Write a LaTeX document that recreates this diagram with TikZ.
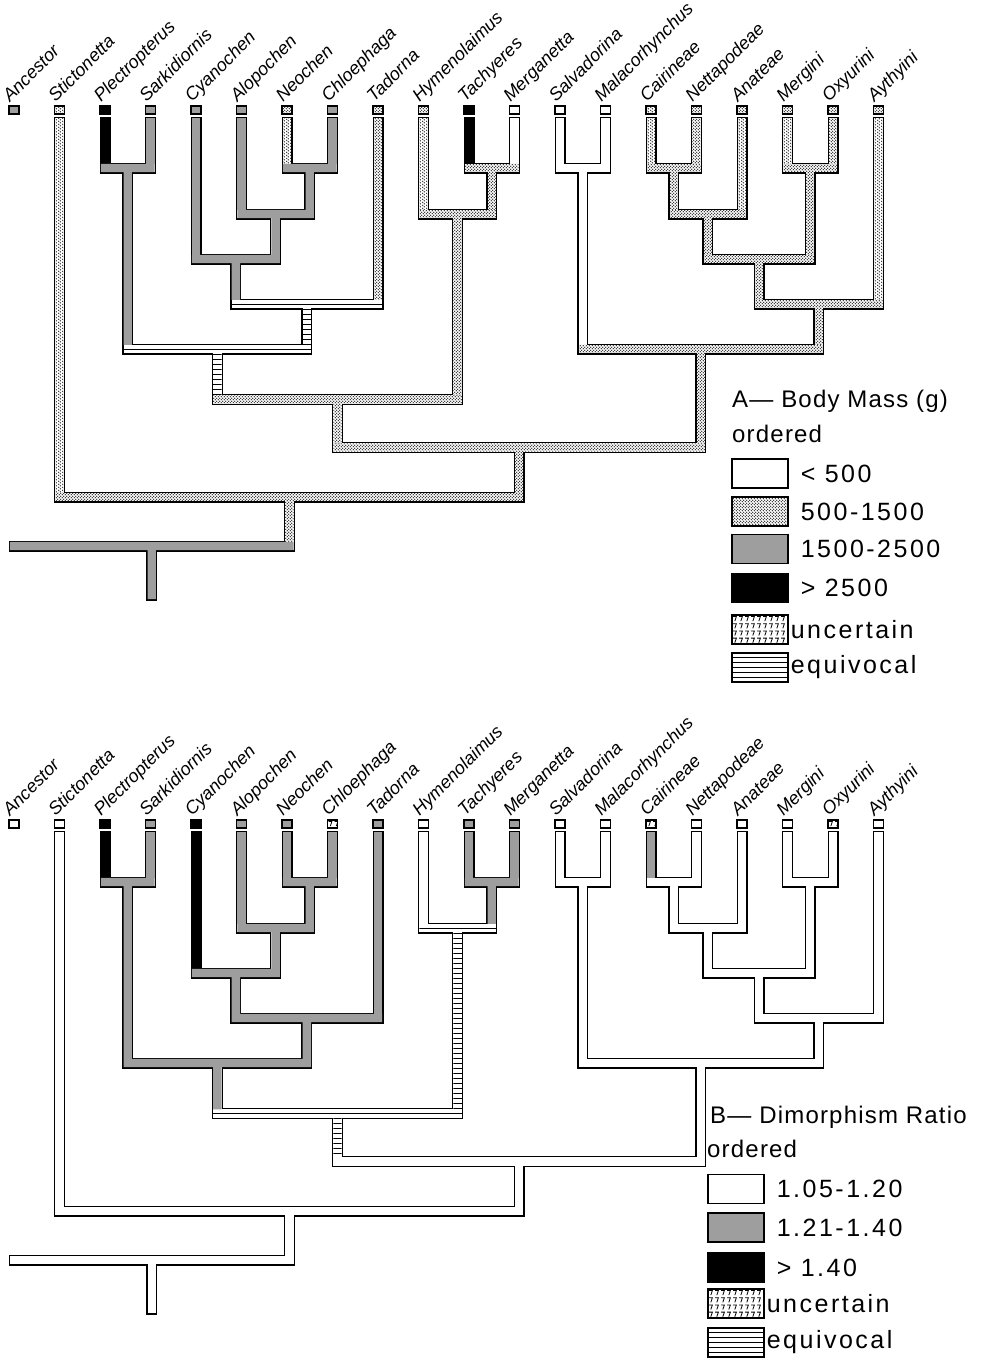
\documentclass[tikz,border=0pt]{standalone}
\usepackage{fontspec}
\setmainfont{Liberation Sans}
\newfontfamily\keyfont{Liberation Sans}[LetterSpace=10]
\newfontfamily\headfont{Liberation Sans}[LetterSpace=5]
\usetikzlibrary{positioning, patterns.meta}

% stipple of the 500-1500 state
\tikzdeclarepattern{name=stip, type=uncolored,
  bounding box={(0pt,0pt) and (3.4pt,3.4pt)}, tile size={(3.4pt,3.4pt)},
  code={\fill (0.85pt,0.85pt) circle [radius=0.75pt];
        \fill (2.55pt,2.55pt) circle [radius=0.75pt];}}

\tikzset{
  blk/.style={fill=black},
  gry/.style={fill=black!38},
  stp/.style={pattern=stip},
  unc/.style={path picture={
    \foreach \a in {0,...,9} \foreach \b in {0,...,3}
      \draw[line width=0.8pt] ([xshift=1pt+6pt*\a, yshift=-1.5pt-7.2pt*\b]path picture bounding box.north west)
        -- ++(3.4,0) -- ++(-1.6,4.6);}},
  eqv/.style={path picture={
    \foreach \k in {0,...,40}
      \draw[line width=1pt] ([yshift=-4.2pt-5pt*\k]path picture bounding box.north west)
        -- ([yshift=-4.2pt-5pt*\k]path picture bounding box.north east);}},
  wht/.style={},
  outer/.style={line width=11pt, line cap=rect},
  inner/.style={white, line width=8.4pt, line cap=rect},
  taxon/.style={rotate=45, anchor=base west, inner sep=0pt,
    font=\fontsize{18}{20}\selectfont\itshape},
  tipbox/.style={draw, line width=1.2pt, minimum width=10pt,
    minimum height=8pt, inner sep=0pt},
  keybox/.style={draw, line width=1.2pt, minimum width=56pt,
    minimum height=29pt, inner sep=0pt},
  keytext/.style={font=\keyfont\fontsize{25}{28}\selectfont, inner sep=0pt},
  keyhead/.style={font=\headfont\fontsize{24}{26}\selectfont, inner sep=0pt,
    anchor=base west},
}

\def\taxa{0/Ancestor, 1/Stictonetta, 2/Plectropterus, 3/Sarkidiornis,
  4/Cyanochen, 5/Alopochen, 6/Neochen, 7/Chloephaga, 8/Tadorna,
  9/Hymenolaimus, 10/Tachyeres, 11/Merganetta, 12/Salvadorina,
  13/Malacorhynchus, 14/Cairineae, 15/Nettapodeae, 16/Anateae,
  17/Mergini, 18/Oxyurini, 19/Aythyini}

% tip: index / box state / branch state / level it joins
\def\tipsA{1/stp/stp/497, 2/blk/blk/168, 3/gry/gry/168, 4/gry/gry/259,
  5/gry/gry/214, 6/stp/stp/168, 7/gry/gry/168, 8/stp/stp/304,
  9/stp/stp/214, 10/blk/blk/168, 11/wht/wht/168, 12/wht/wht/168,
  13/wht/wht/168, 14/stp/stp/168, 15/stp/stp/168, 16/stp/stp/214,
  17/stp/stp/168, 18/stp/stp/168, 19/stp/stp/304}
\def\tipsB{1/wht/wht/497, 2/blk/blk/168, 3/gry/gry/168, 4/blk/blk/259,
  5/gry/gry/214, 6/gry/gry/168, 7/unc/gry/168, 8/gry/gry/304,
  9/wht/wht/214, 10/gry/gry/168, 11/gry/gry/168, 12/wht/wht/168,
  13/wht/wht/168, 14/unc/gry/168, 15/wht/wht/168, 16/wht/wht/214,
  17/wht/wht/168, 18/unc/wht/168, 19/wht/wht/304}

% inner node: state / bar from / bar to / level / parent level
\def\nodesA{gry/105/150.5/168/349, gry/287/332.5/168/214,
  gry/241.5/309.75/214/259, gry/196/275.6/259/304, eqv/235.8/378/304/349,
  eqv/127.75/306.9/349/399.5, stp/469/514.5/168/214,
  stp/423.5/491.75/214/399.5, stp/217.3/457.6/399.5/447.5,
  wht/560/605.5/168/349, stp/651/696.5/168/214, stp/673.75/742/214/259,
  stp/787.5/833/168/259, stp/707.9/810.25/259/304,
  stp/759.1/878.5/304/349, stp/582.75/818.8/349/447.5,
  stp/337.5/700.8/447.5/497, stp/59.5/519.1/497/546}
\def\nodesB{gry/105/150.5/168/349, gry/287/332.5/168/214,
  gry/241.5/309.75/214/259, gry/196/275.6/259/304, gry/235.8/378/304/349,
  gry/127.75/306.9/349/399.5, gry/469/514.5/168/214,
  eqv/423.5/491.75/214/399.5, eqv/217.3/457.6/399.5/447.5,
  wht/560/605.5/168/349, wht/651/696.5/168/214, wht/673.75/742/214/259,
  wht/787.5/833/168/259, wht/707.9/810.25/259/304,
  wht/759.1/878.5/304/349, wht/582.75/818.8/349/447.5,
  wht/337.5/700.8/447.5/497, wht/59.5/519.1/497/546}

\newcommand\drawtree[3]{%
  % black outlines
  \foreach \i/\bx/\st/\yb in #1
    {\draw[outer] (14+45.5*\i,122.5) -- (14+45.5*\i,\yb);}
  \foreach \st/\xa/\xb/\ya/\yb in #2
    {\draw[outer] (\xa,\ya) -- (\xb,\ya) ({(\xa+\xb)/2},\ya) -- ({(\xa+\xb)/2},\yb);}
  \draw[outer] (14,546) -- (289.3,546) (151.7,546) -- (151.7,595);
  % hollow channels
  \foreach \i/\bx/\st/\yb in #1
    {\draw[inner] (14+45.5*\i,122.5) -- (14+45.5*\i,\yb);}
  \foreach \st/\xa/\xb/\ya/\yb in #2
    {\draw[inner] (\xa,\ya) -- (\xb,\ya) ({(\xa+\xb)/2},\ya) -- ({(\xa+\xb)/2},\yb);}
  \draw[inner] (14,546) -- (289.3,546) (151.7,546) -- (151.7,595);
  % states
  \foreach \i/\bx/\st/\yb in #1
    {\path[\st] (14+45.5*\i-4.2,118.3) rectangle (14+45.5*\i+4.2,\yb-4.2);}
  \foreach \st/\xa/\xb/\ya/\yb in #2
    {\path[\st] (\xa-4.2,\ya-4.2) rectangle (\xb+4.2,\ya+4.2)
       ({(\xa+\xb)/2-4.2},\ya) rectangle ({(\xa+\xb)/2+4.2},\yb-4.2);}
  \path[#3] (9.8,541.8) rectangle (293.5,550.2) (147.5,546) rectangle (155.9,599.2);
}

\begin{document}
\begin{tikzpicture}[x=1pt, y=-1pt]
\useasboundingbox (0,0) rectangle (989,1361);

% A: body mass
\begin{scope}
  \drawtree{\tipsA}{\nodesA}{gry}
  \node[tipbox, gry] (A-box0) at (14,110) {};
  \foreach \i/\bx/\st/\yb in \tipsA
    {\node[tipbox, \bx] (A-box\i) at (14+45.5*\i,110) {};}
  \foreach \i/\nm in \taxa
    {\node[taxon] (A-lab\i) at (10+45.5*\i,103) {\nm};}
\end{scope}

\node[keyhead] (A-title) at (732,407) {A— Body Mass (g)};
\node[keyhead] (A-ord) at (732,442) {ordered};
\node[keybox] (A-k1) at (760,473.5) {};
\node[keytext, right=12pt of A-k1] (A-t1) {< 500};
\node[keybox, stp] (A-k2) at (760,511.5) {};
\node[keytext, right=12pt of A-k2] (A-t2) {500-1500};
\node[keybox, gry] (A-k3) at (760,549) {};
\node[keytext, right=12pt of A-k3] (A-t3) {1500-2500};
\node[keybox, blk] (A-k4) at (760,588) {};
\node[keytext, right=12pt of A-k4] (A-t4) {> 2500};
\node[keybox, unc] (A-k5) at (760,629.5) {};
\node[keytext, right=2pt of A-k5] (A-t5) {uncertain};
\node[keybox, eqv] (A-k6) at (760,667.5) {};
\node[keytext, right=2pt of A-k6] (A-t6) {equivocal};

% B: dimorphism ratio
\begin{scope}[yshift=-714pt]
  \drawtree{\tipsB}{\nodesB}{wht}
  \node[tipbox] (B-box0) at (14,110) {};
  \foreach \i/\bx/\st/\yb in \tipsB
    {\node[tipbox, \bx] (B-box\i) at (14+45.5*\i,110) {};}
  \foreach \i/\nm in \taxa
    {\node[taxon] (B-lab\i) at (10+45.5*\i,103) {\nm};}
\end{scope}

\node[keyhead] (B-title) at (710,1123) {B— Dimorphism Ratio};
\node[keyhead] (B-ord) at (707,1157) {ordered};
\node[keybox] (B-k1) at (736,1189) {};
\node[keytext, right=12pt of B-k1] (B-t1) {1.05-1.20};
\node[keybox, gry] (B-k2) at (736,1227.5) {};
\node[keytext, right=12pt of B-k2] (B-t2) {1.21-1.40};
\node[keybox, blk] (B-k3) at (736,1267.5) {};
\node[keytext, right=12pt of B-k3] (B-t3) {> 1.40};
\node[keybox, unc] (B-k4) at (736,1303.5) {};
\node[keytext, right=2pt of B-k4] (B-t4) {uncertain};
\node[keybox, eqv] (B-k5) at (736,1342.5) {};
\node[keytext, right=2pt of B-k5] (B-t5) {equivocal};
\end{tikzpicture}
\end{document}
